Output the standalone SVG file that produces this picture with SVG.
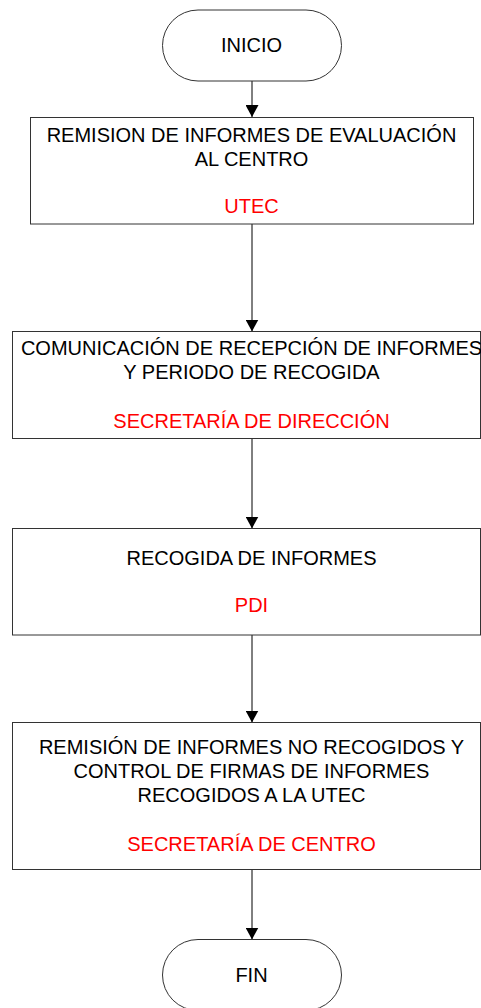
<svg xmlns="http://www.w3.org/2000/svg" width="481" height="1008" viewBox="0 0 481 1008">
<style>
.shape{fill:#fff;stroke:#333;stroke-width:1}
.t{font-family:"Liberation Sans",Arial,sans-serif;font-size:20px;fill:#000;text-anchor:middle}
.r{fill:#ff0000}
.c{stroke:#000;stroke-width:1;fill:none}
</style>
<defs>
<marker id="ah" markerWidth="12" markerHeight="13" refX="12" refY="6.5" orient="auto" markerUnits="userSpaceOnUse">
<path d="M0,0 L12,6.5 L0,13 Z" fill="#000"/>
</marker>
</defs>
<rect width="481" height="1008" fill="#fff"/>
<g id="connectors">
<line class="c" x1="252" y1="81" x2="252" y2="117" marker-end="url(#ah)"/>
<line class="c" x1="252" y1="224" x2="252" y2="331.5" marker-end="url(#ah)"/>
<line class="c" x1="252" y1="438.5" x2="252" y2="528.5" marker-end="url(#ah)"/>
<line class="c" x1="252" y1="635" x2="252" y2="722.5" marker-end="url(#ah)"/>
<line class="c" x1="252" y1="869.5" x2="252" y2="939.5" marker-end="url(#ah)"/>
</g>
<g id="inicio">
<rect class="shape" x="162.5" y="10" width="179" height="71" rx="35.5" ry="35.5"/>
<text class="t" x="251.5" y="52">INICIO</text>
</g>
<g id="remision">
<rect class="shape" x="30.5" y="117.5" width="443" height="106.5"/>
<text class="t" x="251.5" y="141.5">REMISION DE INFORMES DE EVALUACIÓN</text>
<text class="t" x="251.5" y="165.5">AL CENTRO</text>
<text class="t r" x="251.5" y="213">UTEC</text>
</g>
<g id="comunicacion">
<rect class="shape" x="12.5" y="331.5" width="468" height="107"/>
<text class="t" x="251.5" y="355">COMUNICACIÓN DE RECEPCIÓN DE INFORMES</text>
<text class="t" x="251.5" y="379">Y PERIODO DE RECOGIDA</text>
<text class="t r" x="251.5" y="428">SECRETARÍA DE DIRECCIÓN</text>
</g>
<g id="recogida">
<rect class="shape" x="12.5" y="528.5" width="468" height="106.5"/>
<text class="t" x="251.5" y="564.5">RECOGIDA DE INFORMES</text>
<text class="t r" x="251.5" y="612">PDI</text>
</g>
<g id="remision-utec">
<rect class="shape" x="12.5" y="722.5" width="468" height="147"/>
<text class="t" x="251.5" y="754">REMISIÓN DE INFORMES NO RECOGIDOS Y</text>
<text class="t" x="251.5" y="778">CONTROL DE FIRMAS DE INFORMES</text>
<text class="t" x="251.5" y="802">RECOGIDOS A LA UTEC</text>
<text class="t r" x="251.5" y="851">SECRETARÍA DE CENTRO</text>
</g>
<g id="fin">
<rect class="shape" x="162.5" y="939.5" width="179" height="71" rx="35.5" ry="35.5"/>
<text class="t" x="251.5" y="982">FIN</text>
</g>
</svg>
